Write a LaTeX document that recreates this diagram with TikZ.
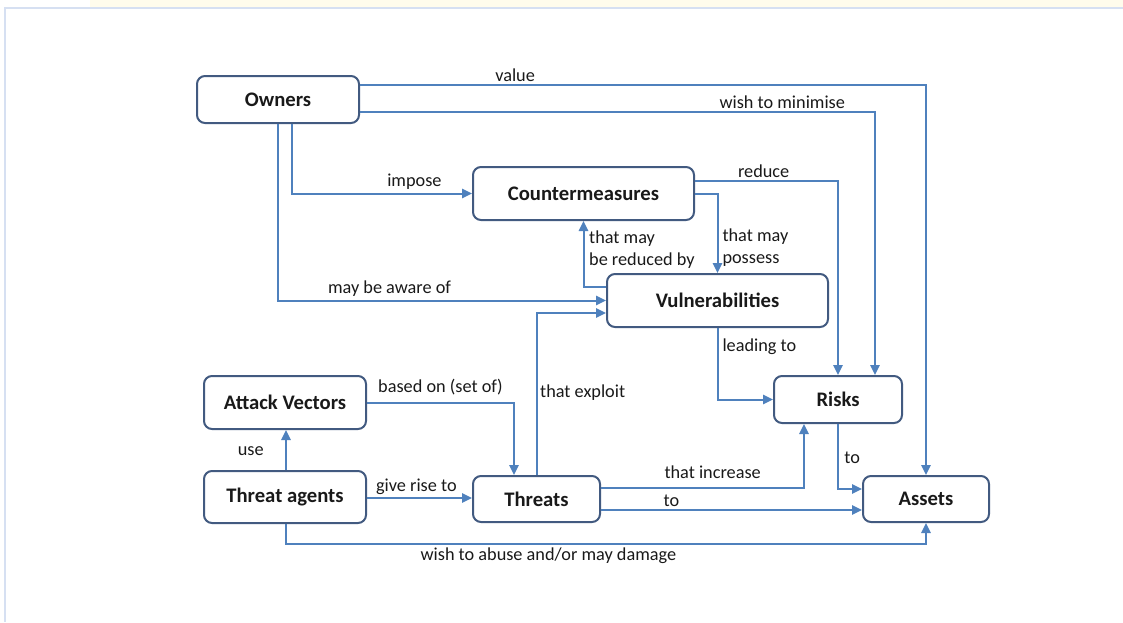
\documentclass[tikz,border=0pt]{standalone}
\usepackage{fontspec}
\setmainfont{Carlito}
\usetikzlibrary{arrows.meta,positioning}
\definecolor{linkblue}{RGB}{79,129,189}
\definecolor{boxline}{RGB}{66,90,128}
\definecolor{frameblue}{RGB}{214,224,242}
\definecolor{bandyellow}{RGB}{255,252,236}
\tikzset{
	%Define standard arrow tip
	>={Triangle[length=7.5pt,width=7pt]},
	%Define style for boxes
	blok/.style={
		rectangle,
		rounded corners=6pt,
		draw=boxline, line width=1.5pt,
		inner sep=0pt,
		font=\bfseries\fontsize{15.5}{18}\selectfont,
		text=black!90},
	% Define arrow style
	pijl/.style={
		->,
		draw=linkblue,
		line width=1.5pt},
	% Define style for arrow labels
	tekst/.style={
		font=\fontsize{13.7}{16.5}\selectfont,
		text=black!90,
		inner sep=2pt}
}
\begin{document}
\begin{tikzpicture}[x=0.75pt,y=-0.75pt]
	\useasboundingbox (0,0) rectangle (1123,622);
	\fill[bandyellow] (90,0) rectangle (1123,7);
	\draw[frameblue,line width=1.5pt] (5,622) -- (5,8) -- (1123,8);
	
	\node[blok,minimum width=121.5pt,minimum height=35.25pt] (owners) at (278,99.5) {Owners};
	\node[blok,minimum width=165.75pt,minimum height=39.75pt] (counter) at (583.5,193.5) {Countermeasures};
	\node[blok,minimum width=165.75pt,minimum height=39.75pt] (vuln) at (717.5,300.5) {Vulnerabilities};
	\node[blok,minimum width=96pt,minimum height=35.25pt] (risks) at (838,399.5) {Risks};
	\node[blok,minimum width=121.5pt,minimum height=39.75pt] (vectors) at (285,402.5) {Attack Vectors};
	\node[blok,minimum width=121.5pt,minimum height=39pt] (agents) at (285,497) {Threat agents};
	\node[blok,minimum width=95.25pt,minimum height=34.5pt] (threats) at (536.5,499) {Threats};
	\node[blok,minimum width=94.5pt,minimum height=34.5pt] (assets) at (926,499) {Assets};
	
	\coordinate (abuse) at (assets.south |- 0,544);
	
	\draw[pijl] (owners.east |- 0,85) -| node[tekst,above,pos=0.137] {value} (assets.north);
	\draw[pijl] (owners.east |- 0,112) -| node[tekst,above,pos=0.41] {wish to minimise} (risks.north -| 875,0);
	\draw[pijl] (owners.south -| 292,0) |- node[tekst,above,pos=0.84] {impose} (counter.west);
	\draw[pijl] (owners.south) |- node[tekst,above,pos=0.67] {may be aware of} (vuln.west);
	\draw[pijl] (vuln.west |- 0,287) -| node[tekst,right,align=left,pos=0.78,xshift=1.5pt] {that may\\be reduced by} (counter.south);
	\draw[pijl] (counter.east) -| node[tekst,right,align=left,pos=0.84,xshift=1pt] {that may\\possess} (vuln.north);
	\draw[pijl] (counter.east |- 0,181) -| node[tekst,above,pos=0.24] {reduce} (risks.north);
	\draw[pijl] (vuln.south) |- node[tekst,right,pos=0.13,xshift=1pt] {leading to} (risks.west);
	\draw[pijl] (vectors.east) -| node[tekst,above,pos=0.25,yshift=3pt] {based on (set of)} (threats.north -| 514,0);
	\draw[pijl] (agents.north -| 286,0) -- node[tekst,left,pos=0.48,xshift=-14pt] {use} (vectors.south -| 286,0);
	\draw[pijl] (agents.east |- 0,498) -- node[tekst,above,pos=0.47] {give rise to} (threats.west |- 0,498);
	\draw[pijl] (threats.north) |- node[tekst,right,pos=0.255] {that exploit} (vuln.west |- 0,313);
	\draw[pijl] (threats.east |- 0,488) -| node[tekst,above,pos=0.275,yshift=4.5pt] {that increase} (risks.south -| 804,0);
	\draw[pijl] (threats.east |- 0,510) -- node[tekst,above,pos=0.27] {to} (assets.west |- 0,510);
	\draw[pijl] (risks.south) |- node[tekst,right,pos=0.26,xshift=2pt] {to} (assets.west |- 0,489);
	\draw[pijl] (agents.south -| 286,0) |- node[tekst,below,pos=0.705] {wish to abuse and/or may damage} (abuse) -- (assets.south);
	
\end{tikzpicture}
\end{document}
